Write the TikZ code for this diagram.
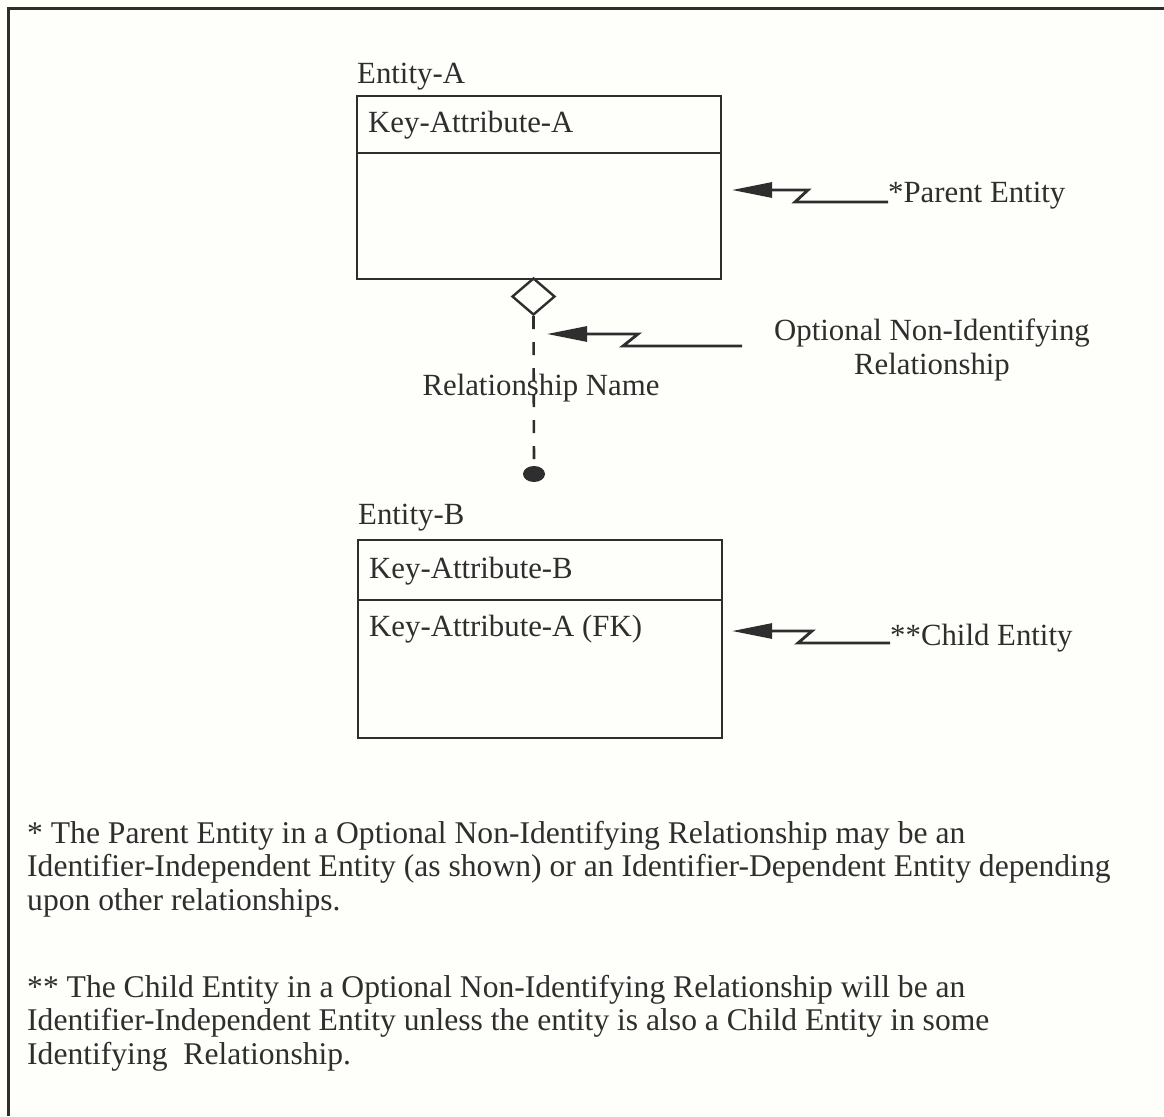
\documentclass[tikz,border=0pt]{standalone}
\usepackage{fontspec}
\setmainfont{Liberation Serif}
\usetikzlibrary{arrows.meta,shapes.geometric}
\definecolor{ink}{HTML}{2E2E2E}
\definecolor{paper}{HTML}{FEFEFA}
\begin{document}
\begin{tikzpicture}[x=1pt,y=-1pt,
  txt/.style={inner sep=0pt,text=ink,font=\fontsize{30.8}{34}\selectfont},
  notetxt/.style={inner sep=0pt,text=ink,font=\fontsize{31.6}{33.5}\selectfont},
  entbox/.style={draw=ink,line width=2.4pt,anchor=north west,inner sep=0pt},
  zz/.style={draw=ink,line width=2.8pt,line join=miter,-{Triangle[length=40pt,width=15pt]}},
  dashline/.style={draw=ink,line width=2.6pt,dash pattern=on 13pt off 13pt},
  frameline/.style={draw=ink,line width=3pt}]
\useasboundingbox (0,0) rectangle (1164,1116);
\fill[paper] (0,0) rectangle (1164,1116);
% outer frame (only top and left edges visible)
\draw[frameline] (8,1116) -- (8,9) -- (1164,9);

% Entity A
\node[txt,anchor=base west] (eaname) at (357,83) {Entity-A};
\node[entbox,minimum width=364pt,minimum height=183pt] (ea) at (356,95) {};
\draw[draw=ink,line width=2.4pt] ([yshift=-58pt]ea.north west) -- ([yshift=-58pt]ea.north east);
\node[txt,anchor=base west] (kaa) at (368,132) {Key-Attribute-A};

% Entity B
\node[txt,anchor=base west] (ebname) at (358,524) {Entity-B};
\node[entbox,minimum width=364pt,minimum height=198pt] (eb) at (357,539) {};
\draw[draw=ink,line width=2.4pt] ([yshift=-61pt]eb.north west) -- ([yshift=-61pt]eb.north east);
\node[txt,anchor=base west] (kab) at (369,578) {Key-Attribute-B};
\node[txt,anchor=base west] (kafk) at (369,636) {Key-Attribute-A (FK)};

% relationship
\node[diamond,draw=ink,line width=2.4pt,fill=paper,minimum width=43pt,minimum height=37pt,inner sep=0pt] (dia) at (533.5,296.5) {};
\node[ellipse,fill=ink,minimum width=22pt,minimum height=16pt,inner sep=0pt] (dot) at (534,474) {};
\draw[dashline] (dia.south) -- (dot.north);
\node[txt,anchor=base] (rname) at (541,395) {Relationship Name};

% annotations
\node[txt,anchor=base west] (plab) at (888,202) {*Parent Entity};
\coordinate (ptip) at (732,190);
\draw[zz] (plab.base west) -- (795,202) -- (808,190) -- (ptip);

\node[txt,align=center,anchor=base] (olab) at (932,374) {Optional Non-Identifying\\Relationship};
\coordinate (oend) at (742,346);
\coordinate (otip) at (547,334);
\draw[zz] (oend) -- (623,346) -- (638,334) -- (otip);

\node[txt,anchor=base west] (clab) at (890,645) {**Child Entity};
\coordinate (ctip) at (732,631);
\draw[zz] ([yshift=2pt]clab.base west) -- (798,643) -- (812,631) -- (ctip);

% notes
\node[notetxt,align=left,anchor=base west] (note1) at (27,910) {* The Parent Entity in a Optional Non-Identifying Relationship may be an\\Identifier-Independent Entity (as shown) or an Identifier-Dependent Entity depending\\upon other relationships.};
\node[notetxt,align=left,anchor=base west] (note2) at (27,1064) {** The Child Entity in a Optional Non-Identifying Relationship will be an\\Identifier-Independent Entity unless the entity is also a Child Entity in some\\Identifying\ \ Relationship.};
\end{tikzpicture}
\end{document}
